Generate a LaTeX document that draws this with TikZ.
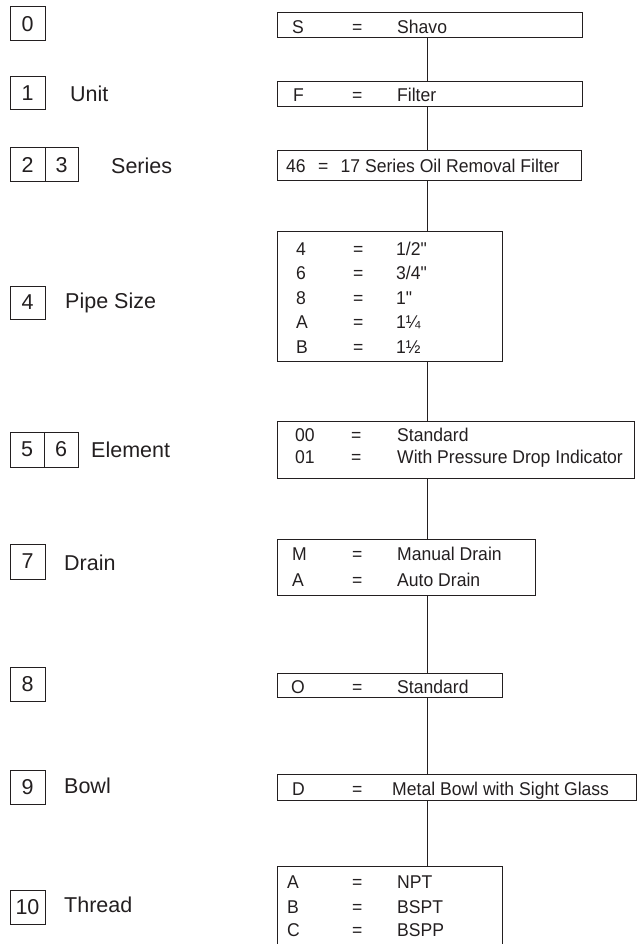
\documentclass[tikz,border=0pt]{standalone}
\usepackage{fontspec}
\setmainfont{Liberation Sans}
\newfontfamily\narrowfont[FakeStretch=0.95]{Liberation Sans}
\definecolor{ink}{HTML}{231F20}
\begin{document}
\begin{tikzpicture}[x=1pt,y=-1pt,
  lbox/.style={draw=ink, line width=1pt, inner sep=0pt, text=ink,
    font=\fontsize{21.5}{21.5}\selectfont},
  rbox/.style={draw=ink, line width=1pt, inner sep=0pt, anchor=north west},
  lab/.style={anchor=base west, inner sep=0pt, text=ink,
    font=\fontsize{21.5}{21.5}\selectfont},
  rt/.style={anchor=base west, inner sep=0pt, text=ink,
    font=\narrowfont\fontsize{18.5}{18.5}\selectfont},
  conn/.style={draw=ink, line width=1pt}]
\useasboundingbox (0,0) rectangle (637,944);

% ---- left column: position boxes ----
\node[lbox, minimum width=35pt, minimum height=34pt] (p0) at (27.5,24) {0};
\node[lbox, minimum width=35pt, minimum height=33pt] (p1) at (27.5,93.5) {1};
\node[lbox, minimum width=35pt, minimum height=34pt] (p2) at (27.5,165) {2};
\node[lbox, minimum width=33pt, minimum height=34pt] (p3) at (61.5,165) {3};
\node[lbox, minimum width=35pt, minimum height=33pt] (p4) at (27.5,302.5) {4};
\node[lbox, minimum width=34pt, minimum height=35pt] (p5) at (27,449.5) {5};
\node[lbox, minimum width=34pt, minimum height=35pt] (p6) at (61,449.5) {6};
\node[lbox, minimum width=35pt, minimum height=35pt] (p7) at (27.5,561.5) {7};
\node[lbox, minimum width=35pt, minimum height=34pt] (p8) at (27.5,684) {8};
\node[lbox, minimum width=35pt, minimum height=34pt] (p9) at (27.5,787) {9};
\node[lbox, minimum width=35pt, minimum height=34pt] (p10) at (27.5,907) {10};

% ---- left column: labels ----
\node[lab] (lUnit) at (70,101.7) {Unit};
\node[lab] (lSeries) at (111,173.3) {Series};
\node[lab] (lPipe) at (65,308.3) {Pipe Size};
\node[lab] (lElem) at (91,457.3) {Element};
\node[lab] (lDrain) at (64,570.7) {Drain};
\node[lab] (lBowl) at (64,793.3) {Bowl};
\node[lab] (lThread) at (64,912.3) {Thread};

% ---- right column: option boxes ----
\node[rbox, minimum width=305pt, minimum height=25pt] (rS) at (277,12) {};
\node[rbox, minimum width=305pt, minimum height=25pt] (rF) at (277,81) {};
\node[rbox, minimum width=304pt, minimum height=30pt] (r46) at (277,150) {};
\node[rbox, minimum width=225pt, minimum height=130pt] (r4) at (277,231) {};
\node[rbox, minimum width=357pt, minimum height=57pt] (rEl) at (277,421) {};
\node[rbox, minimum width=258pt, minimum height=56pt] (rDr) at (277,539) {};
\node[rbox, minimum width=225pt, minimum height=24pt] (rO) at (277,673) {};
\node[rbox, minimum width=359pt, minimum height=26pt] (rD) at (277,774) {};
\node[rbox, minimum width=225pt, minimum height=84pt] (rTh) at (277,866) {};

% ---- connectors along the spine ----
\coordinate (spine) at (427.5,0);
\draw[conn] (rS.south -| spine) -- (rF.north -| spine);
\draw[conn] (rF.south -| spine) -- (r46.north -| spine);
\draw[conn] (r46.south -| spine) -- (r4.north -| spine);
\draw[conn] (r4.south -| spine) -- (rEl.north -| spine);
\draw[conn] (rEl.south -| spine) -- (rDr.north -| spine);
\draw[conn] (rDr.south -| spine) -- (rO.north -| spine);
\draw[conn] (rO.south -| spine) -- (rD.north -| spine);
\draw[conn] (rD.south -| spine) -- (rTh.north -| spine);

% ---- right column: texts ----
\node[rt] (tSk) at (292,33.3) {S};
\node[rt] (tSe) at (352,33.3) {=};
\node[rt] (tSv) at (397,33.3) {Shavo};

\node[rt] (tFk) at (293,101.7) {F};
\node[rt] (tFe) at (352,101.7) {=};
\node[rt] (tFv) at (397,101.7) {Filter};

\node[rt] (t46k) at (286,172.7) {46};
\node[rt] (t46e) at (318,172.7) {=};
\node[rt] (t46v) at (340.5,172.7) {17 Series Oil Removal Filter};

\node[rt] (t4ak) at (296,255) {4};
\node[rt] (t4ae) at (353,255) {=};
\node[rt] (t4av) at (396,255) {1/2"};
\node[rt] (t4bk) at (296,279.6) {6};
\node[rt] (t4be) at (353,279.6) {=};
\node[rt] (t4bv) at (396,279.6) {3/4"};
\node[rt] (t4ck) at (296,304.2) {8};
\node[rt] (t4ce) at (353,304.2) {=};
\node[rt] (t4cv) at (396,304.2) {1"};
\node[rt] (t4dk) at (296,328.8) {A};
\node[rt] (t4de) at (353,328.8) {=};
\node[rt] (t4dv) at (396,328.8) {1¼};
\node[rt] (t4ek) at (296,353.4) {B};
\node[rt] (t4ee) at (353,353.4) {=};
\node[rt] (t4ev) at (396,353.4) {1½};

\node[rt] (tElak) at (295,441.7) {00};
\node[rt] (tElae) at (351,441.7) {=};
\node[rt] (tElav) at (397,441.7) {Standard};
\node[rt] (tElbk) at (295,463.3) {01};
\node[rt] (tElbe) at (351,463.3) {=};
\node[rt] (tElbv) at (397,463.3) {With Pressure Drop Indicator};

\node[rt] (tDrak) at (292,560.7) {M};
\node[rt] (tDrae) at (352,560.7) {=};
\node[rt] (tDrav) at (397,560.7) {Manual Drain};
\node[rt] (tDrbk) at (292,586.5) {A};
\node[rt] (tDrbe) at (352,586.5) {=};
\node[rt] (tDrbv) at (397,586.5) {Auto Drain};

\node[rt] (tOk) at (291,693.5) {O};
\node[rt] (tOe) at (352,693.5) {=};
\node[rt] (tOv) at (397,693.5) {Standard};

\node[rt] (tDk) at (292,795) {D};
\node[rt] (tDe) at (352,795) {=};
\node[rt] (tDv) at (392,795) {Metal Bowl with Sight Glass};

\node[rt] (tThak) at (287,888.3) {A};
\node[rt] (tThae) at (352,888.3) {=};
\node[rt] (tThav) at (397,888.3) {NPT};
\node[rt] (tThbk) at (287,913) {B};
\node[rt] (tThbe) at (352,913) {=};
\node[rt] (tThbv) at (397,913) {BSPT};
\node[rt] (tThck) at (287,936) {C};
\node[rt] (tThce) at (352,936) {=};
\node[rt] (tThcv) at (397,936) {BSPP};
\end{tikzpicture}
\end{document}
